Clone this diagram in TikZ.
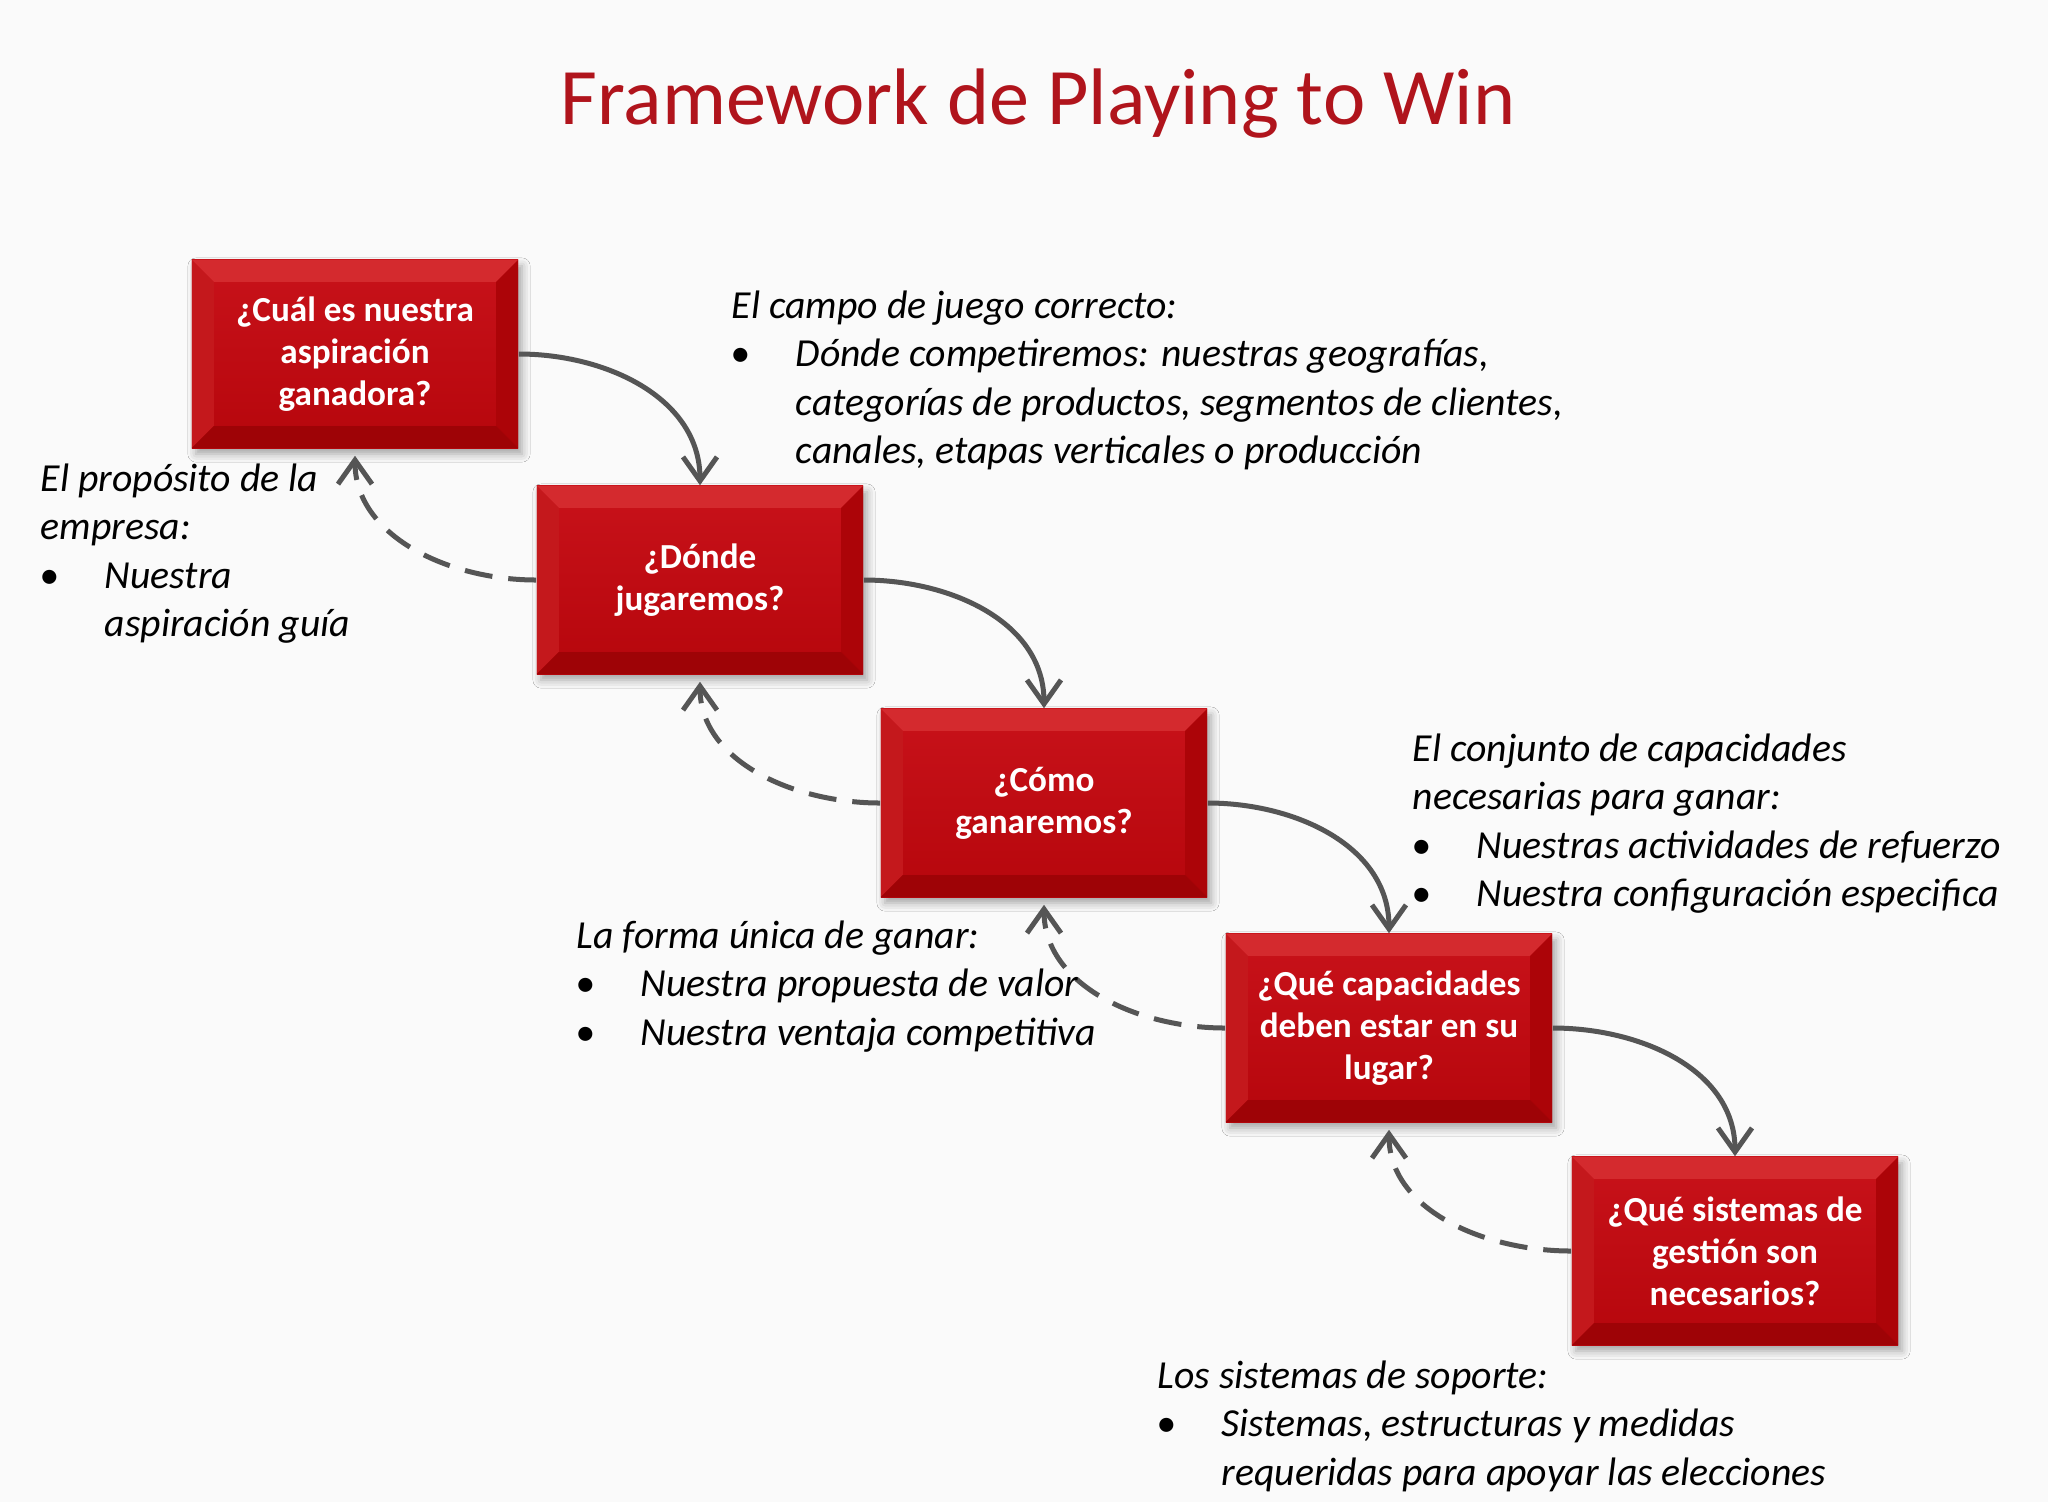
\documentclass[tikz,border=0pt]{standalone}
\usepackage{fontspec}
\setmainfont{Carlito}
\usepackage{tikz}
\usetikzlibrary{arrows.meta, shadows.blur}
\usepackage{xcolor}
\definecolor{pagebg}{HTML}{FAFAFA}
\definecolor{titlered}{HTML}{B0141C}
\definecolor{faceTop}{HTML}{C8121A}
\definecolor{faceBot}{HTML}{B6060C}
\definecolor{bevTop}{HTML}{D42A2E}
\definecolor{bevLeft}{HTML}{C4181C}
\definecolor{bevRight}{HTML}{AC0408}
\definecolor{bevBot}{HTML}{9E0306}
\definecolor{linkgray}{HTML}{555555}
\newcommand{\bul}[1]{\makebox[0.64cm][l]{\hspace{-0.01cm}\textbullet}#1}
\newcommand{\cont}[1]{\hspace*{0.64cm}#1}
\tikzset{%
	question/.style={
		rectangle,
		minimum width=3.26cm,
		minimum height=1.88cm,
		inner sep=0pt,
		top color=faceTop,
		bottom color=faceBot,
		text=white,
		align=center,
		font=\bfseries\fontsize{10}{12}\selectfont,
		blur shadow={shadow xshift=0.4mm, shadow yshift=-0.6mm, shadow blur radius=0.8mm, shadow opacity=35},
		path picture={
			\fill[bevTop] (path picture bounding box.north west) -- (path picture bounding box.north east)
				-- ([shift={(-2.2mm,-2.2mm)}]path picture bounding box.north east)
				-- ([shift={(2.2mm,-2.2mm)}]path picture bounding box.north west) -- cycle;
			\fill[bevLeft] (path picture bounding box.north west) -- (path picture bounding box.south west)
				-- ([shift={(2.2mm,2.2mm)}]path picture bounding box.south west)
				-- ([shift={(2.2mm,-2.2mm)}]path picture bounding box.north west) -- cycle;
			\fill[bevRight] (path picture bounding box.north east) -- (path picture bounding box.south east)
				-- ([shift={(-2.2mm,2.2mm)}]path picture bounding box.south east)
				-- ([shift={(-2.2mm,-2.2mm)}]path picture bounding box.north east) -- cycle;
			\fill[bevBot] (path picture bounding box.south west) -- (path picture bounding box.south east)
				-- ([shift={(-2.2mm,2.2mm)}]path picture bounding box.south east)
				-- ([shift={(2.2mm,2.2mm)}]path picture bounding box.south west) -- cycle;
		}
	},
	note/.style={
		anchor=north west,
		inner sep=0pt,
		align=left,
		font=\itshape\fontsize{11.3}{13.8}\selectfont
	},
	forward/.style={
		draw=linkgray,
		line width=0.5mm,
		-{Straight Barb[length=2.4mm,width=3.4mm]}
	},
	feedback/.style={
		forward,
		dash pattern=on 2.8mm off 1.6mm,
		shorten >=0.7mm
	},
}
\begin{document}
\begin{tikzpicture}[x=0.01cm, y=0.01cm]
	% page
	\fill[pagebg] (0,0) rectangle (2048,-1502);
	\useasboundingbox (0,0) rectangle (2048,-1502);

	% title
	\node[text=titlered, font=\fontsize{22.8}{27}\selectfont] (title) at (1038,-104) {Framework de Playing to Win};

	% the five questions
	\node[question] (aspira) at (355,-354) {¿Cuál es nuestra\\aspiración\\ganadora?};
	\node[question] (donde) at (700,-580) {¿Dónde\\jugaremos?};
	\node[question] (como) at (1044,-803) {¿Cómo\\ganaremos?};
	\node[question] (capac) at (1389,-1028) {¿Qué capacidades\\deben estar en su\\lugar?};
	\node[question] (gestion) at (1735,-1251) {¿Qué sistemas de\\gestión son\\necesarios?};

	% forward arrows
	\draw[forward] (aspira.east) to[out=0, in=90] (donde.north);
	\draw[forward] (donde.east) to[out=0, in=90] (como.north);
	\draw[forward] (como.east) to[out=0, in=90] (capac.north);
	\draw[forward] (capac.east) to[out=0, in=90] (gestion.north);

	% feedback arrows
	\draw[feedback] (donde.west) to[out=180, in=-90] (aspira.south);
	\draw[feedback] (como.west) to[out=180, in=-90] (donde.south);
	\draw[feedback] (capac.west) to[out=180, in=-90] (como.south);
	\draw[feedback] (gestion.west) to[out=180, in=-90] (capac.south);

	% notes
	\node[note] (campo) at (731,-290) {El campo de juego correcto:\\
		\bul{Dónde competiremos: nuestras geografías,}\\
		\cont{categorías de productos, segmentos de clientes,}\\
		\cont{canales, etapas verticales o producción}};
	\node[note] (proposito) at (40,-463) {El propósito de la\\empresa:\\
		\bul{Nuestra}\\
		\cont{aspiración guía}};
	\node[note] (conjunto) at (1412,-733) {El conjunto de capacidades\\necesarias para ganar:\\
		\bul{Nuestras actividades de refuerzo}\\
		\bul{Nuestra configuración especifica}};
	\node[note] (forma) at (576,-920) {La forma única de ganar:\\
		\bul{Nuestra propuesta de valor}\\
		\bul{Nuestra ventaja competitiva}};
	\node[note] (soporte) at (1157,-1360) {Los sistemas de soporte:\\
		\bul{Sistemas, estructuras y medidas}\\
		\cont{requeridas para apoyar las elecciones}};
\end{tikzpicture}
\end{document}
